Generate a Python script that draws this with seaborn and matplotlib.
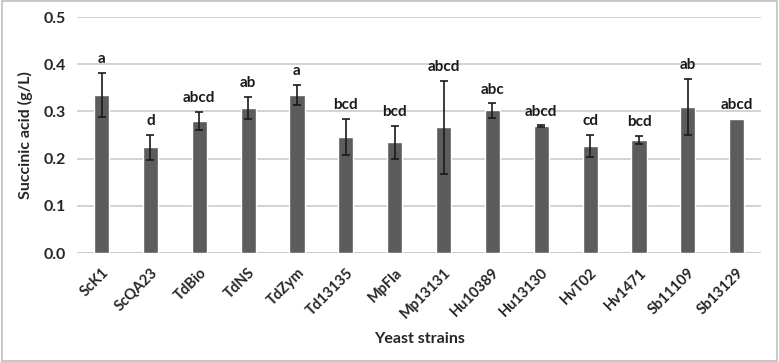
import matplotlib.pyplot as plt
import seaborn as sns
import pandas as pd

strains = ["ScK1", "ScQA23", "TdBio", "TdNS", "TdZym", "Td13135", "MpFla",
           "Mp13131", "Hu10389", "Hu13130", "HvT02", "Hv1471", "Sb11109", "Sb13129"]
succinic = [0.335, 0.224, 0.280, 0.308, 0.335, 0.246, 0.235,
            0.266, 0.302, 0.269, 0.227, 0.239, 0.309, 0.284]
sd = [0.047, 0.026, 0.019, 0.023, 0.021, 0.039, 0.035,
      0.099, 0.015, 0.002, 0.024, 0.009, 0.060, 0.0]
letters = ["a", "d", "abcd", "ab", "a", "bcd", "bcd",
           "abcd", "abc", "abcd", "cd", "bcd", "ab", "abcd"]

df = pd.DataFrame({"strain": strains, "succinic": succinic, "sd": sd, "letter": letters})

sns.set_style("white")
plt.rcParams["font.family"] = ["Lato", "DejaVu Sans"]

fig = plt.figure(figsize=(7.79, 3.62), dpi=100)
ax = fig.add_axes([0.099, 0.301, 0.878, 0.652])

sns.barplot(data=df, x="strain", y="succinic", color="#5c5c5c", saturation=1,
            width=0.31, errorbar=None, ax=ax, zorder=3)

# error bars only where there is a spread
for i, row in df.iterrows():
    if row["sd"] > 0:
        ax.errorbar(i, row["succinic"], yerr=row["sd"], fmt="none", ecolor="#1a1a1a",
                    elinewidth=1.2, capsize=3, capthick=1.2, zorder=4)
    top = row["succinic"] + row["sd"]
    ax.text(i, top + 0.014, row["letter"], ha="center", va="bottom",
            fontsize=11, fontweight="bold", color="#1a1a1a")

ax.set_ylim(0, 0.5)
ax.set_xlim(-0.5, len(strains) - 0.5)
ax.set_yticks([0.0, 0.1, 0.2, 0.3, 0.4, 0.5])
ax.set_yticklabels([f"{v:.1f}" for v in ax.get_yticks()], fontsize=11.5, fontweight="bold")
ax.yaxis.grid(True, color="#c8c8c8", linewidth=1.1, zorder=0)
ax.set_axisbelow(True)
for s in ["top", "right", "left", "bottom"]:
    ax.spines[s].set_visible(False)
ax.axhline(0, color="#c8c8c8", linewidth=1.1, zorder=1)
ax.tick_params(axis="y", length=0, pad=8)
ax.tick_params(axis="x", length=0, pad=9)
plt.setp(ax.get_xticklabels(), rotation=45, ha="right", rotation_mode="anchor",
         fontsize=10.5, fontweight="bold")

ax.set_xlabel("Yeast strains", fontsize=11.5, fontweight="bold", labelpad=8)
ax.set_ylabel("Succinic acid (g/L)", fontsize=11.5, fontweight="bold", labelpad=8)

# outer frame like the exported figure
fig.patches.append(plt.Rectangle((0.002, 0.003), 0.996, 0.994, transform=fig.transFigure,
                                 fill=False, edgecolor="#bfbfbf", linewidth=1.2))

fig.savefig("out.png", dpi=100)
